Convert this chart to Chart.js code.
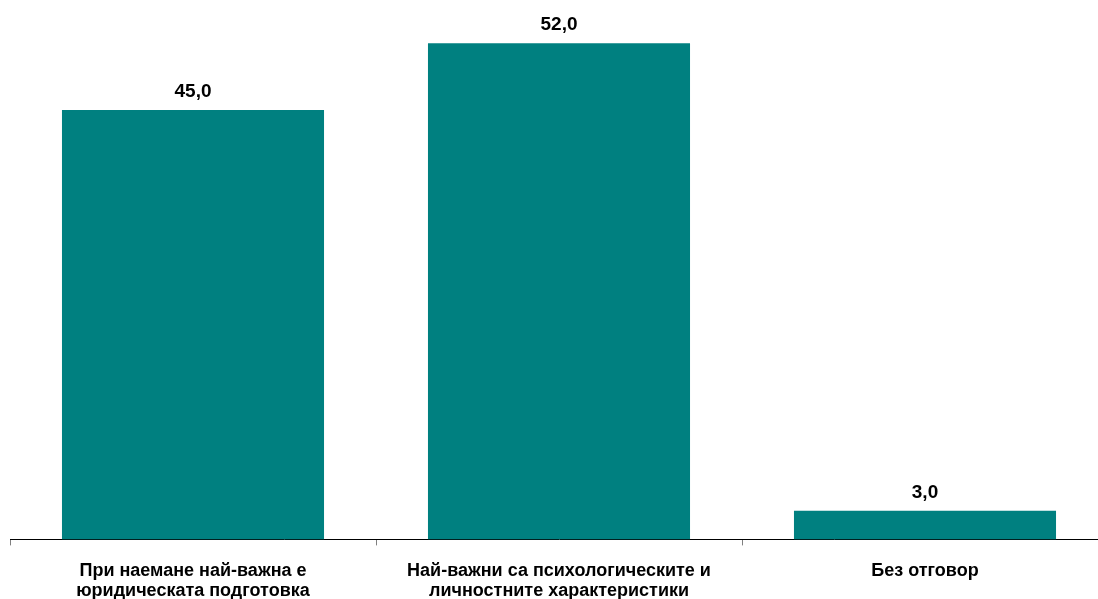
<!DOCTYPE html>
<html>
<head>
<meta charset="utf-8">
<script src="https://cdn.jsdelivr.net/npm/chart.js@4/dist/chart.umd.min.js"></script>
<style>
  html, body { margin: 0; padding: 0; background: #fff; overflow: hidden; }
  #wrap { width: 1098px; height: 599px; overflow: hidden; }
</style>
</head>
<body>
<div id="wrap"><canvas id="bars" width="1118" height="617"></canvas></div>
<script>
// категории и стойности (%)
var categories = [
  ['При наемане най-важна е', 'юридическата подготовка'],
  ['Най-важни са психологическите и', 'личностните характеристики'],
  'Без отговор'
];
var values = [45.0, 52.0, 3.0];
var barColor = '#008080';

// надписи със стойностите над стълбовете
var valueLabels = {
  id: 'valueLabels',
  afterDatasetsDraw: function(chart) {
    var ctx = chart.ctx;
    var meta = chart.getDatasetMeta(0);
    ctx.save();
    ctx.font = 'bold 19px "Liberation Sans", Arial, sans-serif';
    ctx.fillStyle = '#000';
    ctx.textAlign = 'center';
    ctx.textBaseline = 'alphabetic';
    meta.data.forEach(function(bar, i) {
      var txt = values[i].toFixed(1).replace('.', ',');
      ctx.fillText(txt, bar.x, bar.y - 13);
    });
    ctx.restore();
  }
};

new Chart(document.getElementById('bars'), {
  type: 'bar',
  data: {
    labels: categories,
    datasets: [{
      data: values,
      backgroundColor: barColor,
      borderWidth: 0,
      barPercentage: 0.716,
      categoryPercentage: 1.0
    }]
  },
  options: {
    responsive: false,
    animation: false,
    layout: { padding: { top: 5, left: 10, right: 10, bottom: 0 } },
    plugins: { legend: { display: false }, tooltip: { enabled: false } },
    scales: {
      x: {
        offset: true,
        grid: {
          offset: true,
          drawOnChartArea: false,
          drawTicks: true,
          tickLength: 6,
          color: '#808080'
        },
        border: { display: true, color: '#000', width: 1 },
        ticks: {
          color: '#000',
          maxRotation: 0,
          autoSkip: false,
          padding: 16,
          font: { family: '"Liberation Sans", Arial, sans-serif', size: 18, weight: 'bold', lineHeight: 1.1 }
        }
      },
      y: {
        display: false,
        min: 0,
        max: 56
      }
    }
  },
  plugins: [valueLabels]
});
</script>
</body>
</html>
